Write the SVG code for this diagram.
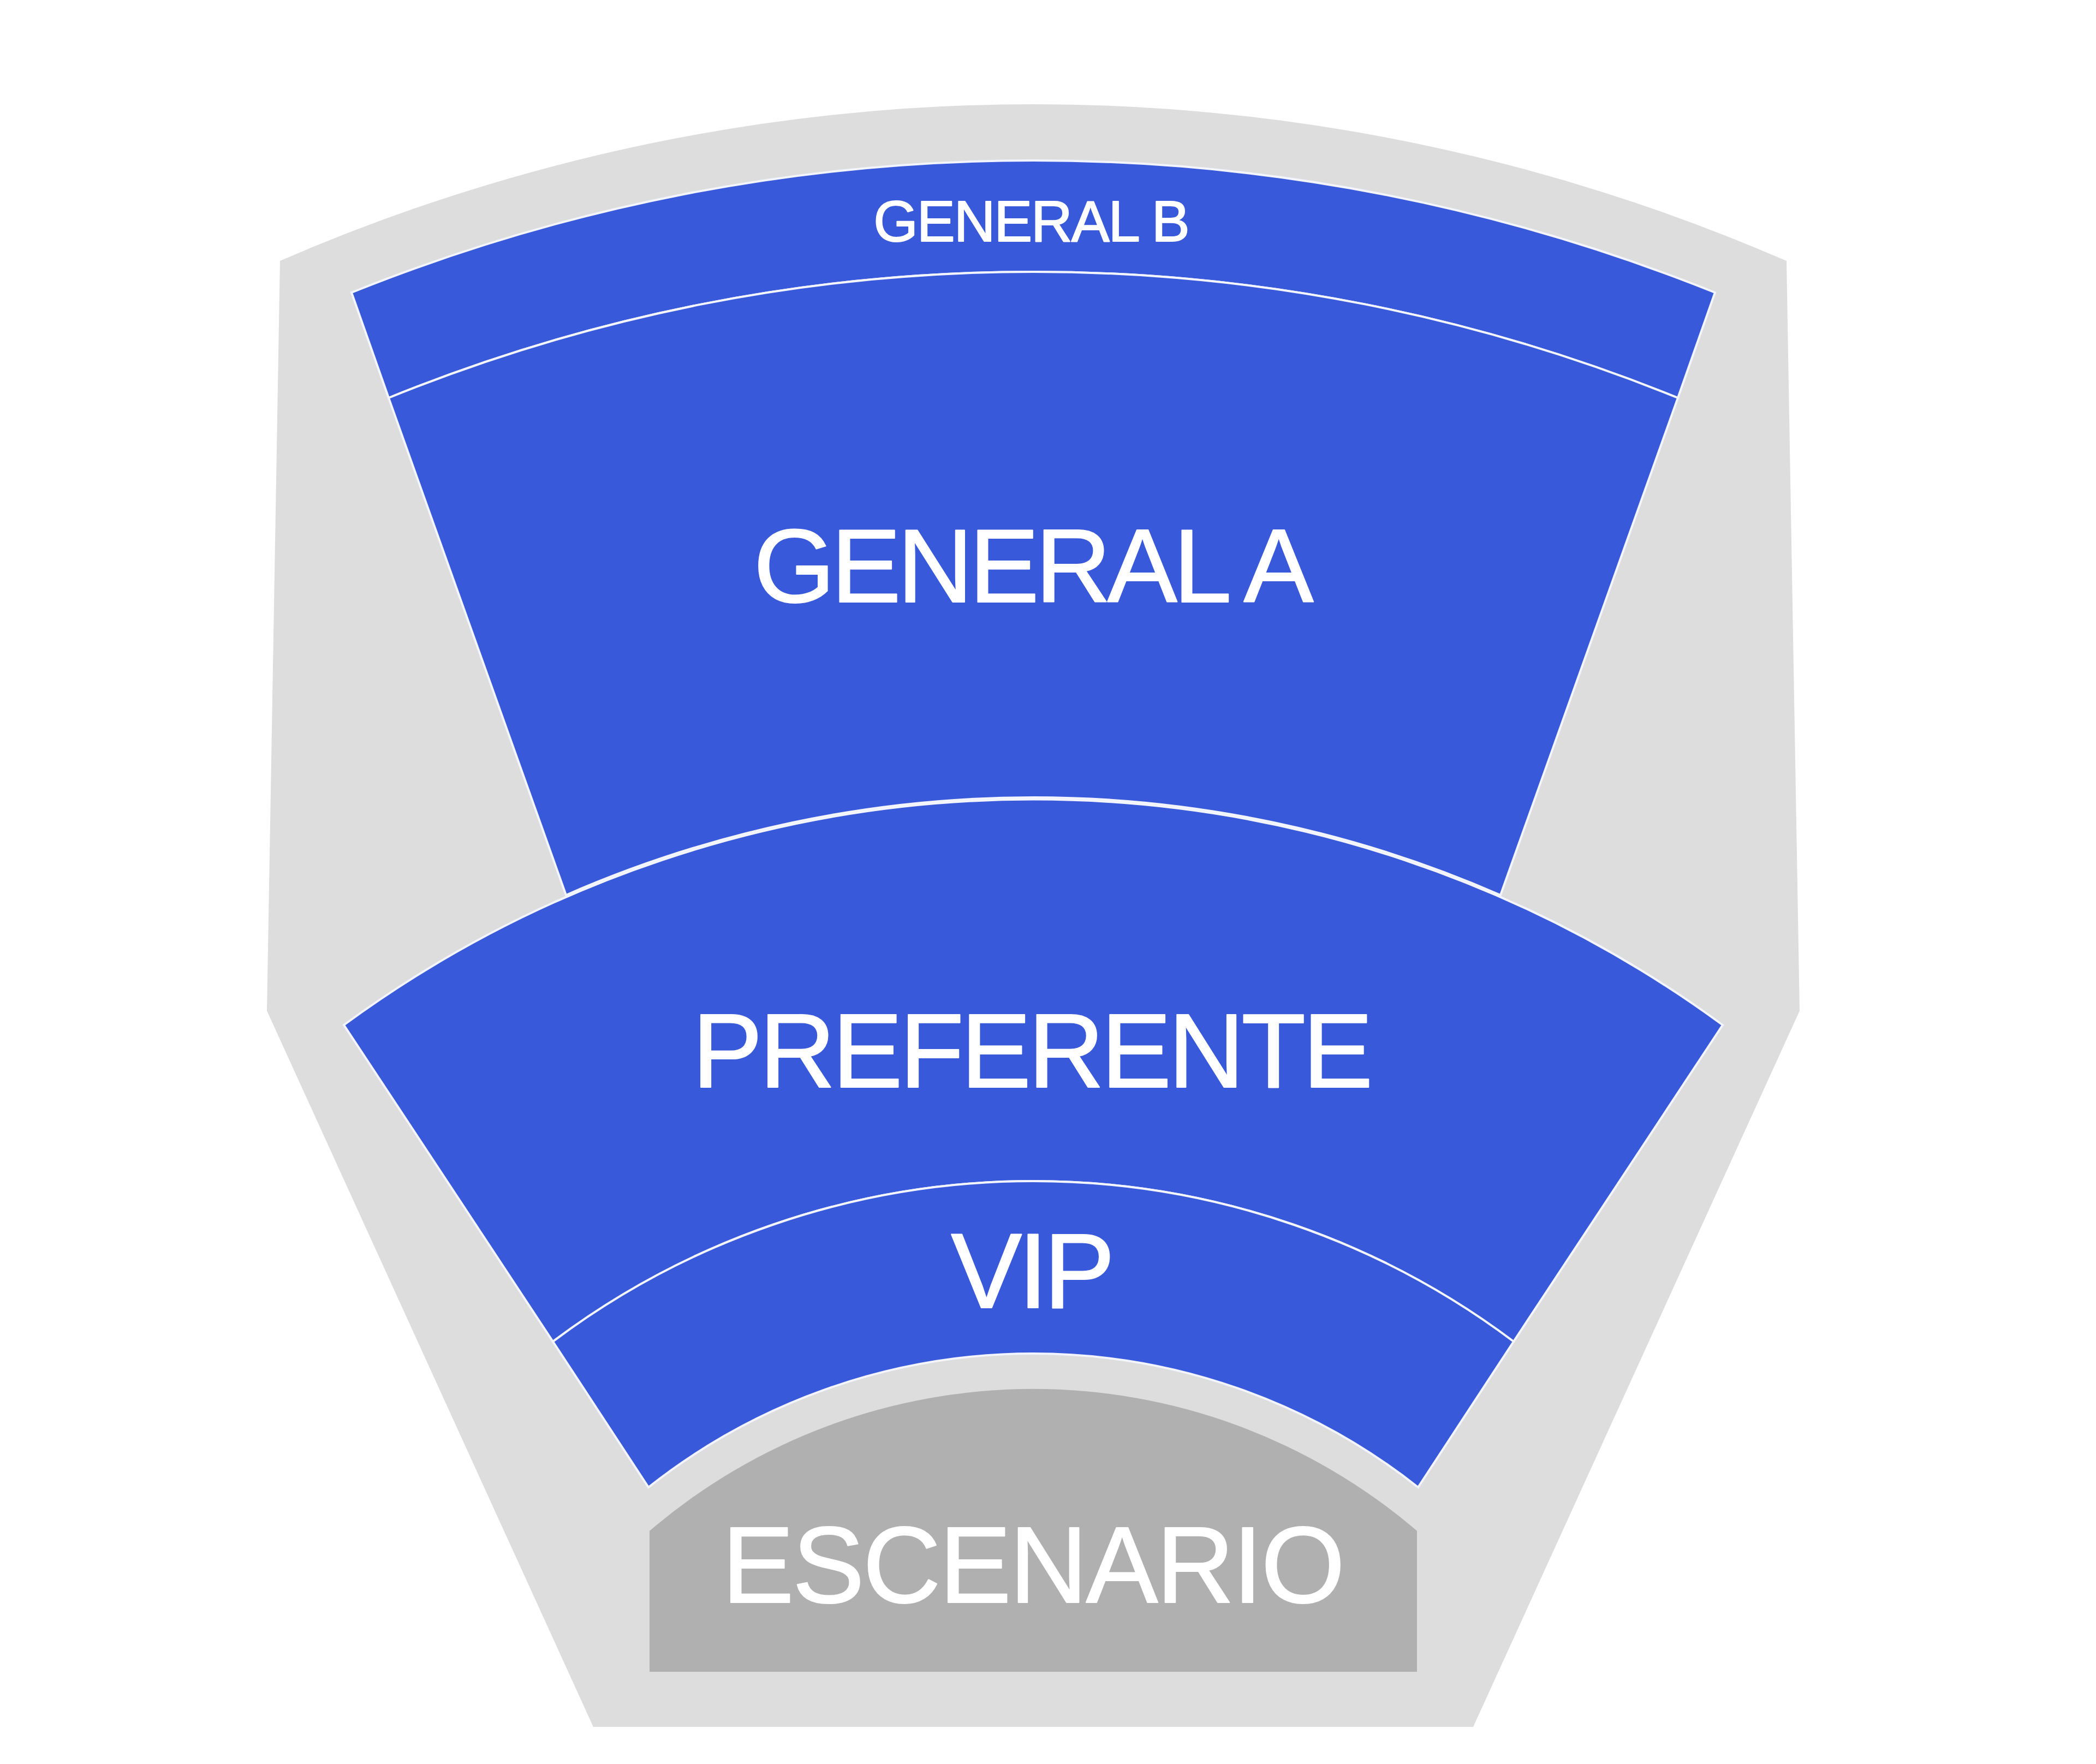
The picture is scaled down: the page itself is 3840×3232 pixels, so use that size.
<svg xmlns="http://www.w3.org/2000/svg" width="3840" height="3232" viewBox="0 0 3840 3232">
  <style>
    .zone { fill: #3859DA; stroke: #F2F4FF; stroke-width: 4; stroke-linejoin: miter; }
    .lbl { font-family: "Liberation Sans", Arial, sans-serif; fill: #FFFFFF; stroke: #FFFFFF; stroke-width: 2; stroke-linejoin: round; text-anchor: middle; }
  </style>
  <rect x="0" y="0" width="3840" height="3232" fill="#FFFFFF"/>
  <g id="venue">
    <path d="M 489,1852 L 513,478 A 3461 3461 0 0 1 3273,478 L 3297,1852 L 2699,3164 L 1087,3164 Z" fill="#DDDDDD"/>
  </g>
  <g id="general-b">
    <path class="zone" d="M 644,536 A 3344 3344 0 0 1 3142,536 L 3074,729 A 3134.5 3134.5 0 0 0 712,729 Z"/>
    <text class="lbl" x="1889" y="442" font-size="105" stroke-width="1.5" letter-spacing="-2.2">GENERAL B</text>
  </g>
  <g id="general-a">
    <path class="zone" d="M 712,729 A 3134.5 3134.5 0 0 1 3074,729 L 2749,1640 A 2136 2136 0 0 0 1037,1640 Z"/>
    <text class="lbl" x="1890" y="1103" font-size="192" letter-spacing="-6.9">GENERAL A</text>
  </g>
  <g id="preferente">
    <path class="zone" d="M 630,1878 A 2136 2136 0 0 1 3156,1878 L 2773,2458 A 1464 1464 0 0 0 1013,2458 Z"/>
    <text class="lbl" x="1889" y="1992" font-size="193" letter-spacing="-5.6">PREFERENTE</text>
  </g>
  <g id="vip">
    <path class="zone" d="M 1013,2458 A 1464 1464 0 0 1 2773,2458 L 2598,2725 A 1137 1137 0 0 0 1188,2725 Z"/>
    <text class="lbl" x="1889" y="2396" font-size="195" letter-spacing="-7">VIP</text>
  </g>
  <g id="escenario">
    <path d="M 1190,3063 L 1190,2805 A 1080 1080 0 0 1 2596,2805 L 2596,3063 Z" fill="#B0B0B0"/>
    <text class="lbl" x="1892" y="2936" font-size="198" letter-spacing="-3.1">ESCENARIO</text>
  </g>
  <g id="connectors"/>
</svg>
